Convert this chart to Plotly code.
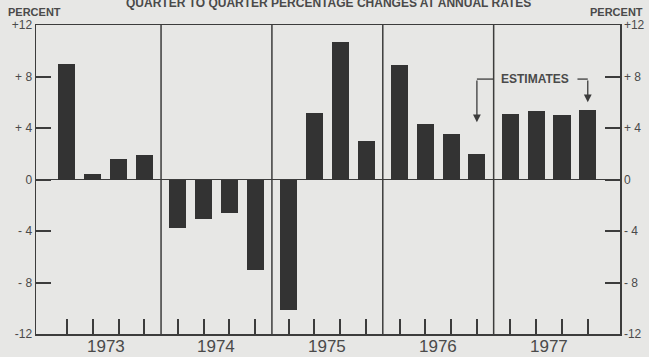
import plotly.graph_objects as go

years = ["1973", "1974", "1975", "1976", "1977"]
quarters = [1, 2, 3, 4]
values = [
    9.0, 0.4, 1.6, 1.9,      # 1973
    -3.8, -3.1, -2.6, -7.0,  # 1974
    -10.1, 5.2, 10.7, 3.0,   # 1975
    8.9, 4.3, 3.5, 2.0,      # 1976
    5.1, 5.3, 5.0, 5.4,      # 1977
]
ytick_vals = [-12, -8, -4, 0, 4, 8, 12]
ytick_text = ["-12", "- 8", "- 4", "0", "+ 4", "+ 8", "+12"]
title_text = "QUARTER TO QUARTER PERCENTAGE CHANGES AT ANNUAL RATES"
estimate_text = "ESTIMATES"

YEAR_STEP = 4.3
xpos = [yi * YEAR_STEP + q for yi in range(len(years)) for q in range(len(quarters))]
year_centers = [yi * YEAR_STEP + 1.5 for yi in range(len(years))]
dividers = [yi * YEAR_STEP - 0.65 for yi in range(1, len(years))]

INK = "#3c3c3c"
TXT = "#4a4a4a"
BG = "#e7e7e5"
FONT = "Liberation Sans, Arial, sans-serif"

fig = go.Figure()
fig.add_trace(go.Bar(x=xpos, y=values, width=0.66, marker=dict(color="#333333", line=dict(width=0)),
                     showlegend=False, hoverinfo="skip"))
fig.add_trace(go.Scatter(x=[xpos[0]], y=[0], yaxis="y2", mode="markers",
                         marker=dict(opacity=0), showlegend=False, hoverinfo="skip"))

axis_common = dict(range=[-12, 12], tickvals=ytick_vals, ticktext=ytick_text,
                   ticks="inside", ticklen=15, tickwidth=2, tickcolor=INK,
                   showgrid=False, showline=True, linecolor=INK, linewidth=1.5, automargin=False,
                   tickfont=dict(family=FONT, size=12, color=TXT), fixedrange=True)

fig.update_layout(
    template="none",
    width=649, height=357,
    margin=dict(l=36, r=29, t=25, b=23, autoexpand=False),
    paper_bgcolor=BG, plot_bgcolor=BG,
    bargap=0,
    xaxis=dict(range=[-1.2, 21.45], tickvals=xpos, showticklabels=False, automargin=False,
               ticks="inside", ticklen=15, tickwidth=2, tickcolor=INK,
               showgrid=False, showline=True, mirror=True, linecolor=INK, linewidth=1.5,
               zeroline=False, fixedrange=True),
    yaxis=dict(**axis_common, side="left", zeroline=True, zerolinecolor=INK, zerolinewidth=1.5),
    yaxis2=dict(**axis_common, side="right", overlaying="y", zeroline=False),
)

for d in dividers:
    fig.add_shape(type="line", xref="x", yref="paper", x0=d, x1=d, y0=0, y1=1,
                  line=dict(color=INK, width=1.5))

for yr, c in zip(years, year_centers):
    fig.add_annotation(x=c, y=-12, xref="x", yref="y", yshift=-12, text=yr, showarrow=False,
                       font=dict(family=FONT, size=17, color=TXT))

fig.add_annotation(x=0.5, y=1, xref="paper", yref="paper", yshift=22, text="<b>" + title_text + "</b>",
                   showarrow=False, yanchor="middle", font=dict(family=FONT, size=12, color=TXT))
fig.add_annotation(x=0, y=1, xref="paper", yref="paper", xshift=-30, yshift=13, xanchor="left",
                   yanchor="middle", text="<b>PERCENT</b>", showarrow=False,
                   font=dict(family=FONT, size=11, color=TXT))
fig.add_annotation(x=1, y=1, xref="paper", yref="paper", xshift=25, yshift=13, xanchor="right",
                   yanchor="middle", text="<b>PERCENT</b>", showarrow=False,
                   font=dict(family=FONT, size=11, color=TXT))

# ESTIMATES bracket
est_y = 7.8
q4_76 = xpos[15]
q4_77 = xpos[19]
fig.add_annotation(x=18.15, y=est_y, xref="x", yref="y", text="<b>" + estimate_text + "</b>",
                   showarrow=False, font=dict(family=FONT, size=12, color=TXT))
fig.add_shape(type="line", xref="x", yref="y", x0=q4_76, x1=dividers[-1], y0=est_y, y1=est_y,
              line=dict(color=INK, width=1.3))
fig.add_shape(type="line", xref="x", yref="y", x0=19.8, x1=q4_77, y0=est_y, y1=est_y,
              line=dict(color=INK, width=1.3))
fig.add_annotation(x=q4_76, y=values[15] + 2.45, ax=q4_76, ay=est_y, xref="x", yref="y",
                   axref="x", ayref="y", showarrow=True, arrowhead=2, arrowsize=1.2,
                   arrowwidth=1.3, arrowcolor=INK, text="")
fig.add_annotation(x=q4_77, y=values[19] + 0.6, ax=q4_77, ay=est_y, xref="x", yref="y",
                   axref="x", ayref="y", showarrow=True, arrowhead=2, arrowsize=1.2,
                   arrowwidth=1.3, arrowcolor=INK, text="")

fig.write_html("out.html", config={"displayModeBar": False, "staticPlot": True},
               post_script="document.body.style.margin='0';document.body.style.overflow='hidden';"
                           "document.body.style.background='" + BG + "';")
